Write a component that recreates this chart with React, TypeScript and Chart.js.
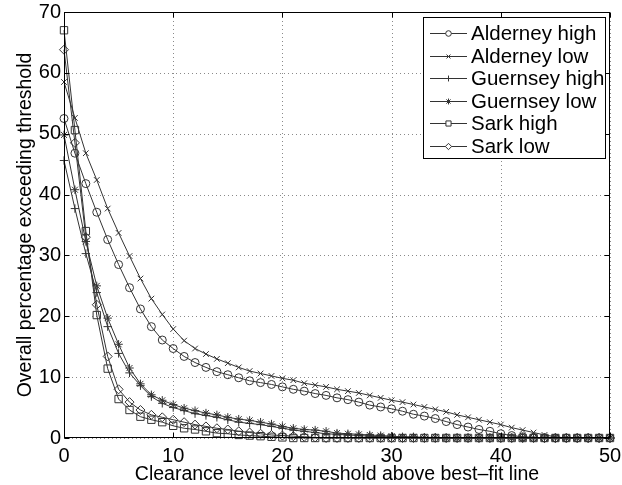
import React, { useEffect, useRef } from 'react';
import { Chart, registerables } from 'chart.js';
import { drawPoint } from 'chart.js/helpers';

Chart.register(...registerables);

const xValues = [
  0, 1, 2, 3, 4, 5, 6, 7, 8, 9, 10, 11, 12, 13, 14, 15, 16, 17, 18, 19, 20, 21, 22, 23, 24, 25,
  26, 27, 28, 29, 30, 31, 32, 33, 34, 35, 36, 37, 38, 39, 40, 41, 42, 43, 44, 45, 46, 47, 48, 49, 50,
];

const alderneyHigh = [
  52.5, 46.8, 41.8, 37.1, 32.6, 28.5, 24.7, 21.2, 18.3, 16.1, 14.7, 13.4, 12.4, 11.6, 10.9, 10.4,
  9.9, 9.4, 9.1, 8.8, 8.4, 8.0, 7.7, 7.3, 7.0, 6.6, 6.3, 5.9, 5.4, 5.1, 4.8, 4.4, 3.9, 3.6, 3.2,
  2.7, 2.2, 1.8, 1.4, 1.1, 0.7, 0.4, 0.2, 0.1, 0, 0, 0, 0, 0, 0, 0,
];
const alderneyLow = [
  58.5, 52.6, 46.8, 42.4, 37.7, 33.7, 29.9, 26.2, 22.9, 20.3, 17.9, 16.0, 14.7, 13.8, 13.0, 12.3,
  11.6, 11.0, 10.6, 10.2, 9.8, 9.5, 9.0, 8.7, 8.4, 8.0, 7.7, 7.4, 7.0, 6.6, 6.2, 5.9, 5.5, 5.1, 4.7,
  4.3, 3.8, 3.4, 3.0, 2.6, 2.2, 1.7, 1.3, 0.9, 0.5, 0.2, 0, 0, 0, 0, 0,
];
const guernseyHigh = [
  45.6, 37.7, 30.3, 23.9, 18.3, 13.9, 10.7, 8.6, 6.8, 5.7, 5.0, 4.5, 4.0, 3.7, 3.4, 3.0, 2.6, 2.4,
  2.2, 1.9, 1.6, 1.3, 1.1, 0.9, 0.7, 0.6, 0.5, 0.4, 0.3, 0.2, 0.2, 0.1, 0.1, 0, 0, 0, 0, 0, 0, 0,
  0, 0, 0, 0, 0, 0, 0, 0, 0, 0, 0,
];
const guernseyLow = [
  49.8, 40.8, 32.3, 25.0, 19.7, 15.4, 11.5, 8.9, 7.1, 6.2, 5.5, 4.9, 4.5, 4.1, 3.8, 3.4, 3.1, 2.9,
  2.6, 2.3, 1.9, 1.6, 1.4, 1.3, 1.1, 0.8, 0.7, 0.6, 0.5, 0.4, 0.3, 0.2, 0.2, 0.1, 0.1, 0, 0, 0, 0,
  0, 0, 0, 0, 0, 0, 0, 0, 0, 0, 0, 0,
];
const sarkHigh = [
  67.0, 50.6, 34.0, 20.2, 11.4, 6.4, 4.6, 3.5, 3.0, 2.6, 2.0, 1.6, 1.4, 1.1, 0.8, 0.7, 0.5, 0.4,
  0.3, 0.2, 0.1, 0, 0, 0, 0, 0, 0, 0, 0, 0, 0, 0, 0, 0, 0, 0, 0, 0, 0, 0, 0, 0, 0, 0, 0, 0, 0, 0,
  0, 0, 0,
];
const sarkLow = [
  63.8, 48.5, 33.0, 21.9, 13.4, 8.0, 5.9, 4.6, 3.8, 3.4, 3.0, 2.6, 2.2, 1.9, 1.6, 1.4, 1.1, 0.9,
  0.7, 0.5, 0.4, 0.3, 0.2, 0.1, 0, 0, 0, 0, 0, 0, 0, 0, 0, 0, 0, 0, 0, 0, 0, 0, 0, 0, 0, 0, 0, 0,
  0, 0, 0, 0, 0,
];

const seriesLabels = [
  'Alderney high',
  'Alderney low',
  'Guernsey high',
  'Guernsey low',
  'Sark high',
  'Sark low',
];
const seriesValues = [alderneyHigh, alderneyLow, guernseyHigh, guernseyLow, sarkHigh, sarkLow];
const seriesMarkers = ['circle', 'crossRot', 'cross', 'star', 'rect', 'rectRot'];
const markerRadius = [4, 4, 4.2, 4.2, 5.2, 4.5];

const xTitle = 'Clearance level of threshold above best\u2013fit line';
const yTitle = 'Overall percentage exceeding threshold';

const FONT = '"Liberation Sans", Arial, Helvetica, sans-serif';
const LINE_COLOR = '#333333';

const gridPlugin = {
  id: 'matlabGrid',
  beforeDatasetsDraw(chart: any) {
    const { ctx, chartArea } = chart;
    const left = Math.round(chartArea.left);
    const right = Math.round(chartArea.right);
    const top = Math.round(chartArea.top);
    const bottom = Math.round(chartArea.bottom);
    const xs = chart.scales.x;
    const ys = chart.scales.y;
    ctx.save();
    ctx.strokeStyle = '#8a8a8a';
    ctx.lineWidth = 1;
    ctx.setLineDash([1, 3]);
    ctx.beginPath();
    xs.ticks.forEach((t: any) => {
      const px = Math.round(xs.getPixelForValue(t.value)) + 0.5;
      ctx.moveTo(px, bottom);
      ctx.lineTo(px, top);
    });
    ys.ticks.forEach((t: any) => {
      const py = Math.round(ys.getPixelForValue(t.value)) + 0.5;
      ctx.moveTo(left, py);
      ctx.lineTo(right, py);
    });
    ctx.stroke();
    ctx.restore();
  },
};

const framePlugin = {
  id: 'matlabFrame',
  afterDraw(chart: any) {
    const { ctx, chartArea } = chart;
    const left = Math.round(chartArea.left) + 0.5;
    const right = Math.round(chartArea.right) - 0.5;
    const top = Math.round(chartArea.top) + 0.5;
    const bottom = Math.round(chartArea.bottom) - 0.5;
    ctx.save();
    ctx.strokeStyle = '#000';
    ctx.lineWidth = 1;
    ctx.setLineDash([]);
    ctx.strokeRect(left, top, right - left, bottom - top);
    const tl = 5;
    const xs = chart.scales.x;
    const ys = chart.scales.y;
    ctx.beginPath();
    xs.ticks.forEach((t: any) => {
      const px = Math.round(xs.getPixelForValue(t.value)) + 0.5;
      ctx.moveTo(px, bottom);
      ctx.lineTo(px, bottom - tl);
      ctx.moveTo(px, top);
      ctx.lineTo(px, top + tl);
    });
    ys.ticks.forEach((t: any) => {
      const py = Math.round(ys.getPixelForValue(t.value)) + 0.5;
      ctx.moveTo(left, py);
      ctx.lineTo(left + tl, py);
      ctx.moveTo(right, py);
      ctx.lineTo(right - tl, py);
    });
    ctx.stroke();

    // legend box
    const lx = 423.5;
    const ly = 17.5;
    const lw = 182;
    const lh = 141;
    ctx.fillStyle = '#fff';
    ctx.fillRect(lx, ly, lw, lh);
    ctx.strokeStyle = '#000';
    ctx.strokeRect(lx, ly, lw, lh);
    ctx.font = '20.5px ' + FONT;
    ctx.textAlign = 'left';
    ctx.textBaseline = 'middle';
    chart.data.datasets.forEach((ds: any, i: number) => {
      const cy = Math.round(33 + i * 22.6) + 0.5;
      ctx.strokeStyle = LINE_COLOR;
      ctx.lineWidth = 1;
      ctx.beginPath();
      ctx.moveTo(430, cy);
      ctx.lineTo(467, cy);
      ctx.stroke();
      ctx.fillStyle = '#fff';
      drawPoint(
        ctx,
        {
          pointStyle: ds.pointStyle,
          radius: ds.pointRadius * 0.7,
          rotation: 0,
          borderWidth: 1,
        } as any,
        448.5,
        cy
      );
      ctx.fillStyle = '#000';
      ctx.fillText(ds.label, 471, cy + 1);
    });
    ctx.restore();
  },
};

export default function App() {
  const canvasRef = useRef<HTMLCanvasElement | null>(null);

  useEffect(() => {
    const canvas = canvasRef.current;
    if (!canvas) return;
    const datasets = seriesLabels.map((label, i) => ({
      label,
      data: seriesValues[i].map((v, j) => ({ x: xValues[j], y: v })),
      borderColor: LINE_COLOR,
      backgroundColor: 'rgba(0,0,0,0)',
      borderWidth: 1,
      pointStyle: seriesMarkers[i],
      pointRadius: markerRadius[i],
      pointBorderColor: LINE_COLOR,
      pointBackgroundColor: 'rgba(0,0,0,0)',
      pointBorderWidth: 1,
      tension: 0,
      fill: false,
      clip: false as any,
    }));

    const chart = new Chart(canvas, {
      type: 'line',
      data: { datasets },
      options: {
        animation: false,
        responsive: false,
        devicePixelRatio: 1,
        layout: { padding: { top: 12, right: 12, left: 0, bottom: 0 } },
        plugins: {
          legend: { display: false },
          tooltip: { enabled: false },
        },
        scales: {
          x: {
            type: 'linear',
            min: 0,
            max: 50,
            afterFit: (scale: any) => {
              scale.height = 47;
              scale.paddingLeft = 0;
              scale.paddingRight = 0;
            },
            ticks: {
              stepSize: 10,
              color: '#000',
              padding: 6,
              maxRotation: 0,
              font: { family: FONT, size: 20 },
            },
            grid: { display: false, drawTicks: false },
            border: { display: false },
            title: {
              display: true,
              text: xTitle,
              color: '#000',
              font: { family: FONT, size: 19.5, lineHeight: 1 },
              padding: { top: 0, bottom: 0.5 },
            },
          },
          y: {
            type: 'linear',
            min: 0,
            max: 70,
            afterFit: (scale: any) => {
              scale.width = 64;
              scale.paddingTop = 0;
              scale.paddingBottom = 0;
            },
            ticks: {
              stepSize: 10,
              color: '#000',
              padding: 3,
              font: { family: FONT, size: 20 },
            },
            grid: { display: false, drawTicks: false },
            border: { display: false },
            title: {
              display: true,
              text: yTitle,
              color: '#000',
              font: { family: FONT, size: 19.5, lineHeight: 1 },
              padding: { top: 16, bottom: 0 },
            },
          },
        },
      },
      plugins: [gridPlugin, framePlugin],
    });
    return () => chart.destroy();
  }, []);

  return (
    <div style={{ position: 'absolute', left: 0, top: 0, width: 622, height: 485, background: '#fff' }}>
      <canvas ref={canvasRef} width={622} height={485} style={{ display: 'block' }} />
    </div>
  );
}
